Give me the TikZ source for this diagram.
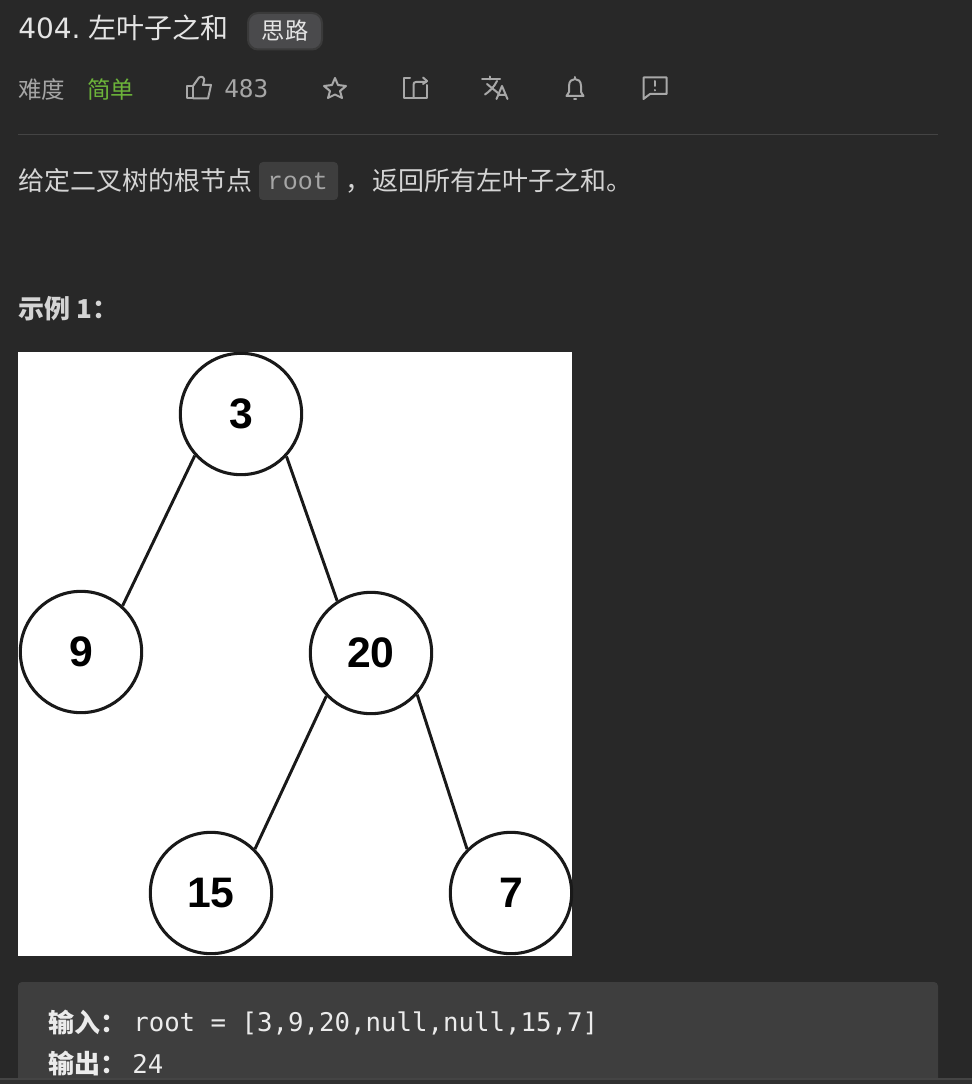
\documentclass[tikz,border=0pt]{standalone}
\usepackage{fontspec}
\setmainfont{DejaVu Sans}
\setsansfont{Liberation Sans}
\setmonofont{DejaVu Sans Mono}
\newfontfamily\cjk{Noto Sans CJK SC}
\newfontfamily\slabmono{Liberation Mono}
\definecolor{pagebg}{HTML}{282828}
\definecolor{codebg}{HTML}{3E3E3E}
\definecolor{rulec}{HTML}{444444}
\definecolor{titlec}{HTML}{E4E4E4}
\definecolor{bodyc}{HTML}{D4D4D4}
\definecolor{mutedc}{HTML}{A6A6A6}
\definecolor{iconc}{HTML}{A8A8A8}
\definecolor{greenc}{HTML}{6CB33A}
\definecolor{stripc}{HTML}{444444}
\definecolor{stripb}{HTML}{303030}
\definecolor{badgefill}{HTML}{4A4A4C}
\definecolor{badgeedge}{HTML}{3A3A3A}
\tikzset{
  x=0.75pt,y=-0.75pt,
  txt/.style={inner sep=0pt,anchor=base west,text=bodyc,font=\cjk\fontsize{19.5}{20}\selectfont},
  metatxt/.style={txt,text=mutedc,font=\cjk\fontsize{17.6}{18}\selectfont},
  treenode/.style={circle,draw=black!90,line width=2.3pt,minimum size=91pt,inner sep=0pt,fill=white,text=black,font=\sffamily\bfseries\fontsize{32}{32}\selectfont},
  edge/.style={draw=black!90,line width=2.2pt},
  ico/.style={draw=iconc,line width=1.5pt,line join=round,line cap=round},
  codetxt/.style={inner sep=0pt,anchor=base west,text=white!92!black,font=\ttfamily\fontsize{19.3}{20}\selectfont},
  codelabel/.style={inner sep=0pt,anchor=base west,text=white!92!black,font=\cjk\bfseries\fontsize{19.5}{20}\selectfont}
}
\begin{document}
\begin{tikzpicture}
\useasboundingbox (0,0) rectangle (972,1084);
\fill[pagebg] (0,0) rectangle (972,1084);
% header
\node[txt,text=titlec,font=\rmfamily\fontsize{21}{21}\selectfont] (titlenum) at (18,38.5) {404.};
\node[txt,text=titlec,font=\cjk\fontsize{21}{21}\selectfont] (title) at (88,39) {左叶子之和};
\draw[draw=badgeedge,line width=1.5pt,fill=badgefill,rounded corners=7.5pt] (248,13) rectangle (322,49.5);
\node[txt,anchor=base,text=titlec,font=\cjk\fontsize{17.5}{18}\selectfont] (badge) at (285,39.5) {思路};
\node[metatxt] (diff) at (18,98.5) {难度};
\node[metatxt,text=greenc] (easy) at (87,98.5) {简单};
\node[txt,text=mutedc,font=\ttfamily\fontsize{18.3}{18}\selectfont] (likes) at (224,97.5) {483};
% thumb
\draw[ico] (187,86) rectangle (193,98.5);
\draw[ico] (193,86) -- (199,77.5) .. controls (202,75.5) and (205,78) .. (204,81) -- (203,85) -- (211,85) -- (208,98.5) -- (193,98.5);
% star
\draw[ico] (335,78) -- (338,85) -- (346,86) -- (340,91) -- (342,98) -- (335,94.5) -- (328,98) -- (330,91) -- (324,86) -- (332,85) -- cycle;
% share
\draw[ico] (410,78) -- (403.5,78) -- (403.5,98) -- (427,98) -- (427,85);
\draw[ico] (413.5,97) -- (413.5,85) .. controls (413.5,83) and (414,82) .. (416,82) -- (426,82);
\draw[ico] (423,77.5) -- (427,81) -- (423,84);
% translate
\draw[ico] (482,79.5) -- (500,79.5) (490,76.5) -- (490,79.5);
\draw[ico] (497,81) .. controls (494,87) and (490,91) .. (485,94.5);
\draw[ico] (487,84) -- (498,93);
\draw[ico] (496.5,99) -- (502,86) -- (507.5,99) (498.5,95) -- (505.5,95);
% bell
\draw[ico] (566.5,96) -- (583.5,96) -- (581,92) -- (581,86) .. controls (581,81) and (578,79) .. (575,79) .. controls (572,79) and (569,81) .. (569,86) -- (569,92) -- cycle;
\draw[ico] (575,77) -- (575,78);
\draw[ico] (574,99) -- (576,99);
% feedback
\draw[ico] (643.5,77.5) -- (666.5,77.5) -- (666.5,94) -- (650,94) -- (643.5,99) -- cycle;
\draw[ico] (655,81) -- (655,86) (655,90) -- (655,90.5);
\draw[rulec,line width=1.1pt] (18,134.5) -- (938,134.5);
% description
\node[txt] (d1) at (18,191) {给定二叉树的根节点};
\fill[codebg,rounded corners=3pt] (259,162) rectangle (338,200);
\node[inner sep=0pt,anchor=base,text=mutedc,font=\slabmono\fontsize{18.75}{19}\selectfont] (code) at (298,190) {root};
\node[txt] (d2) at (345,191) {，};
\node[txt] (d3) at (372,191) {返回所有左叶子之和。};
\node[txt,font=\cjk\bfseries\fontsize{19.5}{20}\selectfont] (ex) at (18,318) {示例 1：};
% tree image
\fill[white] (18,352) rectangle (572,956);
\node[treenode] (n3) at (241,414) {3};
\node[treenode] (n9) at (81,652) {9};
\node[treenode] (n20) at (371,653) {20};
\node[treenode] (n15) at (211,893) {15};
\node[treenode] (n7) at (511,893) {7};
\draw[edge] (n3.222) -- (n9.48);
\draw[edge] (n3.317) -- (n20.123);
\draw[edge] (n20.224) -- (n15.45);
\draw[edge] (n20.318) -- (n7.135);
% code block
\fill[codebg,rounded corners=3pt] (18,982) rectangle (938,1090);
\node[codelabel] (inl) at (48,1032) {输入：};
\node[codetxt] (inv) at (133,1031.5) {root = [3,9,20,null,null,15,7]};
\node[codelabel] (outl) at (48,1073) {输出：};
\node[codetxt] (outv) at (132,1073) {24};
\fill[stripc] (0,1078) rectangle (972,1080);
\fill[stripb] (0,1080) rectangle (972,1084);
\end{tikzpicture}
\end{document}
